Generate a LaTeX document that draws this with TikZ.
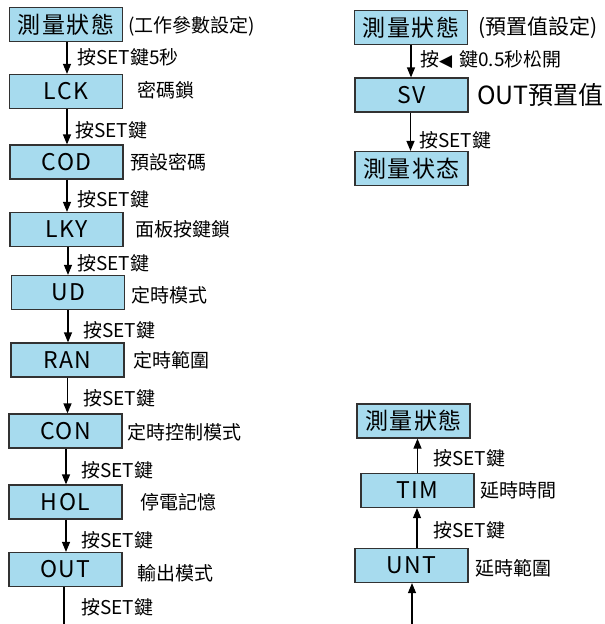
\documentclass[tikz,border=0pt]{standalone}
\usepackage{fontspec}
\setmainfont{Noto Sans CJK TC}
\newfontfamily\boxfont[LetterSpace=6]{Noto Sans CJK TC}
\newfontfamily\symfont{DejaVu Sans}
\usetikzlibrary{arrows.meta}
\definecolor{boxblue}{RGB}{167,219,238}
\definecolor{boxline}{RGB}{50,50,50}
\begin{document}
\begin{tikzpicture}[x=1pt,y=-1pt,
  stbox/.style={draw=boxline,line width=1.2pt,fill=boxblue,minimum width=113pt,minimum height=34pt,inner sep=0pt,font=\boxfont\fontsize{23}{23}\selectfont},
  keylbl/.style={anchor=west,inner sep=0pt,font=\fontsize{19}{19}\selectfont},
  desc/.style={anchor=west,inner sep=0pt,font=\fontsize{19}{19}\selectfont},
  arr/.style={line width=1.2pt,-{Triangle[length=10pt,width=8pt]}},
  plain/.style={line width=1.2pt}]
\useasboundingbox (0,0) rectangle (605,624);
% left column
\node[stbox] (m1) at (66,24.5) {測量狀態};
\node[stbox] (lck) at (66,91.5) {LCK};
\node[stbox] (cod) at (66.5,162) {COD};
\node[stbox] (lky) at (66.5,229.5) {LKY};
\node[stbox] (ud) at (68,292.5) {UD};
\node[stbox] (ran) at (67.5,360) {RAN};
\node[stbox] (con) at (65.5,431) {CON};
\node[stbox] (hol) at (65.5,502) {HOL};
\node[stbox] (out) at (65.5,569.5) {OUT};
\coordinate (lend) at (64,624);

\draw[arr] (m1.south) ++(1,0) coordinate (a1) -- (a1 |- lck.north);
\draw[arr] (lck.south) ++(1,0) coordinate (a2) -- (a2 |- cod.north);
\draw[arr] (cod.south) ++(0.5,0) coordinate (a3) -- (a3 |- lky.north);
\draw[arr] (lky.south) ++(1.5,0) coordinate (a4) -- (a4 |- ud.north);
\draw[arr] (ud.south) -- (ud.south |- ran.north);
\draw[arr] (ran.south) -- (ran.south |- con.north);
\draw[arr] (con.south) ++(0.5,0) coordinate (a7) -- (a7 |- hol.north);
\draw[arr] (hol.south) ++(0.5,0) coordinate (a8) -- (a8 |- out.north);
\draw[plain] (out.south -| lend) -- (lend);

\node[keylbl] (k1) at (77,57) {按SET鍵5秒};
\node[keylbl] (k2) at (75,130) {按SET鍵};
\node[keylbl] (k3) at (77,199) {按SET鍵};
\node[keylbl] (k4) at (77,263) {按SET鍵};
\node[keylbl] (k5) at (83,330) {按SET鍵};
\node[keylbl] (k6) at (83,398) {按SET鍵};
\node[keylbl] (k7) at (81,470) {按SET鍵};
\node[keylbl] (k8) at (81,540) {按SET鍵};
\node[keylbl] (k9) at (81,607) {按SET鍵};

\node[desc] (d1) at (128,26) {(工作參數設定)};
\node[desc] (d2) at (137,90) {密碼鎖};
\node[desc] (d3) at (130,162) {預設密碼};
\node[desc] (d4) at (135,229) {面板按鍵鎖};
\node[desc] (d5) at (131,295) {定時模式};
\node[desc] (d6) at (133,360) {定時範圍};
\node[desc] (d7) at (127,432) {定時控制模式};
\node[desc] (d8) at (140,502) {停電記憶};
\node[desc] (d9) at (137,573) {輸出模式};

% right top
\node[stbox] (r1) at (411,27.5) {測量狀態};
\node[stbox] (sv) at (411.5,95) {SV};
\node[stbox] (r3) at (411.5,168.5) {測量状态};
\draw[arr] (r1.south) -- (r1.south |- sv.north);
\draw[arr] (sv.south) ++(-1,0) coordinate (b2) -- (b2 |- r3.north);
\node[anchor=west,inner sep=0pt,font=\fontsize{21}{21}\selectfont] (e1) at (478,28) {(預置值設定)};
\node[keylbl] (e2) at (420,60) {按{\symfont\fontsize{17}{17}\selectfont ◀}\hspace{7pt}鍵0.5秒松開};
\node[anchor=west,inner sep=0pt,font=\fontsize{25}{25}\selectfont] (e3) at (477,95) {OUT預置值};
\node[keylbl] (e4) at (419,140) {按SET鍵};

% right bottom
\node[stbox] (r4) at (413.5,421) {測量狀態};
\node[stbox] (tim) at (417.5,490.5) {TIM};
\node[stbox] (unt) at (411.5,565.5) {UNT};
\coordinate (rend) at (412,624);
\draw[arr] (tim.north) -- (tim.north |- r4.south);
\draw[arr] (unt.north) ++(5.5,0) coordinate (c2) -- (c2 |- tim.south);
\draw[arr] (rend) -- (rend |- unt.south);
\node[keylbl] (f1) at (433,458) {按SET鍵};
\node[desc] (f2) at (480,490) {延時時間};
\node[keylbl] (f3) at (433,530) {按SET鍵};
\node[desc] (f4) at (475,568) {延時範圍};
\end{tikzpicture}
\end{document}
